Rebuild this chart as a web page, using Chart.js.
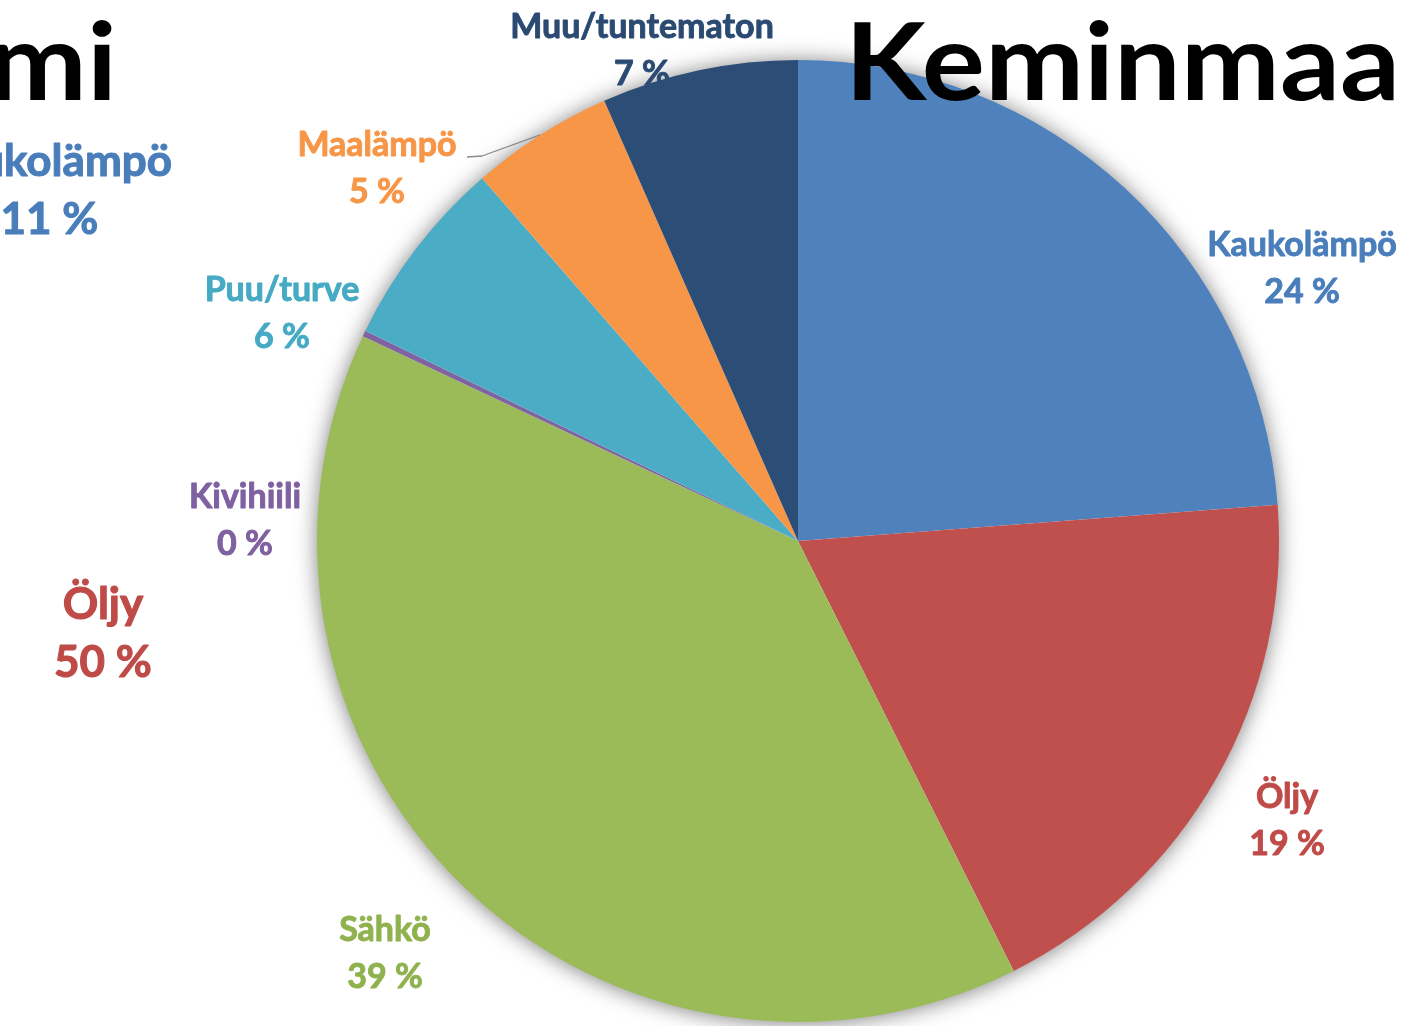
<!DOCTYPE html>
<html>
<head>
<meta charset="utf-8">
<script src="https://cdn.jsdelivr.net/npm/chart.js@4.4.1/dist/chart.umd.min.js"></script>
<style>
  html, body { margin: 0; padding: 0; background: #ffffff; overflow: hidden; }
  #wrap { position: relative; width: 1407px; height: 1026px; }
  canvas { display: block; }
</style>
</head>
<body>
<div id="wrap"><canvas id="c" width="1407" height="1026"></canvas></div>
<script>
// ---- Data (Keminmaa) ----
const categories = ['Kaukolämpö', 'Öljy', 'Sähkö', 'Kivihiili', 'Puu/turve', 'Maalämpö', 'Muu/tuntematon'];
const shares = [23.8, 18.8, 39.4, 0.2, 6.4, 4.8, 6.6];
const shareLabels = ['24 %', '19 %', '39 %', '0 %', '6 %', '5 %', '7 %'];
const sliceColors = ['#4F81BD', '#C0504D', '#9BBB59', '#8064A2', '#4BACC6', '#F79646', '#2C4D75'];
const labelColors = ['#4A7EBB', '#BE4B48', '#8FB24F', '#7F60A0', '#46AAC4', '#F79646', '#2B4A72'];
const titleText = 'Keminmaa';

// ---- Neighbouring (cropped) chart: Kemi ----
const neighbourTitle = 'Kemi';
const neighbourCategories = ['Kaukolämpö', 'Öljy'];
const neighbourLabels = ['11 %', '50 %'];
const neighbourColors = ['#4A7EBB', '#BE4B48'];

// ---- Layout (label anchor points, px) ----
const labelPos = [
  [1302, 245], [1287, 797], [385, 930], [245, 497], [282, 290], [377, 145], [642, 27]
];
const lineGap = 47;
const neighbourPos = [[172, 162, 'right'], [103, 605, 'center']];

const FONT = 'Lato, "Open Sans", "DejaVu Sans", sans-serif';

function boldText(ctx, txt, x, y, color, sw) {
  ctx.fillStyle = color;
  ctx.strokeStyle = color;
  ctx.lineWidth = sw;
  ctx.lineJoin = 'round';
  ctx.strokeText(txt, x, y);
  ctx.fillText(txt, x, y);
}

const decor = {
  id: 'decor',
  beforeDatasetsDraw(chart) {
    const ctx = chart.ctx;
    const arc0 = chart.getDatasetMeta(0).data[0];
    // soft shadow disc
    ctx.save();
    ctx.shadowColor = 'rgba(0,0,0,0.55)';
    ctx.shadowBlur = 22;
    ctx.shadowOffsetX = 0;
    ctx.shadowOffsetY = 1;
    ctx.fillStyle = '#ffffff';
    ctx.beginPath();
    ctx.arc(arc0.x, arc0.y, arc0.outerRadius - 1, 0, Math.PI * 2);
    ctx.fill();
    ctx.restore();

    // labels (drawn beneath the pie)
    ctx.save();
    ctx.textAlign = 'center';
    ctx.textBaseline = 'middle';
    ctx.font = 'bold 34px ' + FONT;
    categories.forEach((name, i) => {
      const [x, y] = labelPos[i];
      boldText(ctx, name, x, y, labelColors[i], 0.9);
      boldText(ctx, shareLabels[i], x, y + lineGap, labelColors[i], 0.9);
    });
    // leader line for Maalämpö
    const mi = 5;
    const a = chart.getDatasetMeta(0).data[mi];
    const mid = (a.startAngle + a.endAngle) / 2;
    const ex = a.x + Math.cos(mid) * a.outerRadius;
    const ey = a.y + Math.sin(mid) * a.outerRadius;
    ctx.strokeStyle = '#8a8a8a';
    ctx.lineWidth = 1.3;
    ctx.beginPath();
    ctx.moveTo(467, 157);
    ctx.lineTo(482, 156);
    ctx.lineTo(ex, ey);
    ctx.stroke();
    ctx.restore();

    // neighbour chart labels
    ctx.save();
    ctx.textBaseline = 'middle';
    ctx.font = 'bold 44px ' + FONT;
    neighbourCategories.forEach((name, i) => {
      const [x, y, al] = neighbourPos[i];
      let cx = x;
      if (al === 'right') {
        const w = ctx.measureText(name).width;
        cx = x - w / 2;
      }
      ctx.textAlign = 'center';
      boldText(ctx, name, cx, y, neighbourColors[i], 1.1);
      boldText(ctx, neighbourLabels[i], cx, y + 58, neighbourColors[i], 1.1);
    });
    ctx.restore();
  },
  afterDraw(chart) {
    const ctx = chart.ctx;
    ctx.save();
    ctx.fillStyle = '#000000';
    ctx.textBaseline = 'alphabetic';
    ctx.font = 'bold 108px ' + FONT;
    // Keminmaa title, fitted to 555 px width
    const w = ctx.measureText(titleText).width;
    ctx.translate(845, 100);
    ctx.scale(555 / w, 1);
    ctx.textAlign = 'left';
    ctx.fillText(titleText, 0, 0);
    ctx.restore();
    ctx.save();
    ctx.fillStyle = '#000000';
    ctx.font = 'bold 108px ' + FONT;
    ctx.textAlign = 'right';
    ctx.textBaseline = 'alphabetic';
    ctx.translate(117, 100);
    ctx.scale(555 / w, 1);
    ctx.fillText(neighbourTitle, 0, 0);
    ctx.restore();
  }
};

new Chart(document.getElementById('c'), {
  type: 'pie',
  data: {
    labels: categories,
    datasets: [{
      data: shares,
      backgroundColor: sliceColors,
      borderWidth: 0,
      hoverOffset: 0
    }]
  },
  options: {
    responsive: false,
    animation: false,
    events: [],
    rotation: 0,
    layout: { padding: { left: 317, top: 60, right: 128, bottom: 4 } },
    plugins: {
      legend: { display: false },
      tooltip: { enabled: false },
      title: { display: false }
    }
  },
  plugins: [decor]
});
</script>
</body>
</html>
